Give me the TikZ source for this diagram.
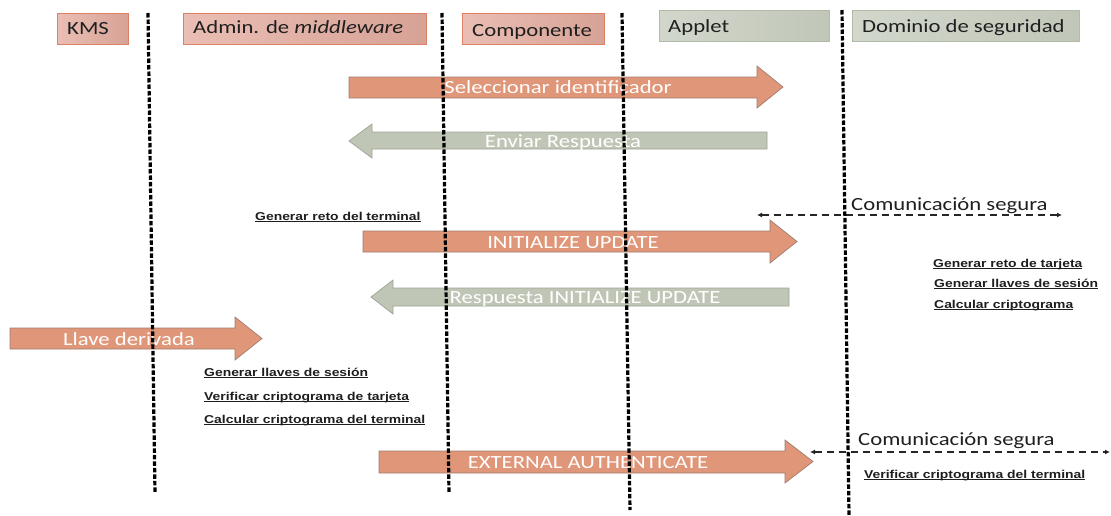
\documentclass[tikz,border=0pt]{standalone}
\usepackage{fontspec}
\setmainfont{Carlito}[FakeStretch=1.22]
\newfontfamily\notefont{Liberation Sans}[FakeStretch=1.22]
\usetikzlibrary{arrows.meta}

\definecolor{hdrpinkA}{RGB}{234,190,180}
\definecolor{hdrpinkB}{RGB}{215,162,150}
\definecolor{hdrpinkLine}{RGB}{222,128,100}
\definecolor{hdrgrayA}{RGB}{210,215,203}
\definecolor{hdrgrayB}{RGB}{192,198,184}
\definecolor{hdrgrayLine}{RGB}{178,186,168}
\definecolor{reqfill}{RGB}{224,150,120}
\definecolor{reqline}{RGB}{160,125,112}
\definecolor{respfill}{RGB}{192,198,182}
\definecolor{respline}{RGB}{158,164,150}
\definecolor{notecol}{RGB}{30,30,30}

% underlined bold note text
\newsavebox\ulbox
\newcommand\noteul[1]{\sbox\ulbox{#1}\rlap{\rule[-1.8pt]{\wd\ulbox}{0.9pt}}\usebox\ulbox}

% right-pointing block arrow: x0, head base x, tip x, shaft top, shaft bottom, head top, head bottom
\newcommand\rblock[8]{\draw[#1] (#2,#5) -- (#3,#5) -- (#3,#7) -- (#4,{(#7+#8)/2}) -- (#3,#8) -- (#3,#6) -- (#2,#6) -- cycle;}
% left-pointing block arrow: tip x, head base x, right end x, shaft top, shaft bottom, head top, head bottom
\newcommand\lblock[8]{\draw[#1] (#4,#5) -- (#3,#5) -- (#3,#7) -- (#2,{(#7+#8)/2}) -- (#3,#8) -- (#3,#6) -- (#4,#6) -- cycle;}

\tikzset{
  hdrpink/.style={draw=hdrpinkLine, line width=0.9pt, left color=hdrpinkA, right color=hdrpinkB,
    anchor=north west, minimum height=31pt, inner sep=0pt},
  hdrgray/.style={draw=hdrgrayLine, line width=0.9pt, left color=hdrgrayA, right color=hdrgrayB,
    anchor=north west, minimum height=31pt, inner sep=0pt},
  hdrtext/.style={anchor=base west, inner sep=0pt, text=black!88,
    font=\fontsize{18.6}{22}\selectfont},
  reqarrow/.style={fill=reqfill, draw=reqline, line width=0.7pt},
  resparrow/.style={fill=respfill, draw=respline, line width=0.7pt},
  arrowtext/.style={inner sep=0pt, text=white, text height=12pt, text depth=0pt,
    font=\fontsize{18.6}{22}\selectfont},
  note/.style={anchor=base west, inner sep=0pt, text=notecol,
    font=\notefont\bfseries\fontsize{11.4}{14}\selectfont},
  lifeline/.style={line width=3.2pt, black, dash pattern=on 4.5pt off 2pt},
  secure/.style={line width=1.3pt, black!85, dash pattern=on 7pt off 5pt,
    {Latex[length=5pt,width=5pt]}-{Latex[length=5pt,width=5pt]}},
  securetext/.style={anchor=base west, inner sep=0pt, text=black!88,
    font=\fontsize{18.6}{22}\selectfont}
}

\begin{document}
\begin{tikzpicture}[x=1pt,y=-1pt]
\useasboundingbox (0,0) rectangle (1111,515);

% participants
\node[hdrpink, minimum width=71pt]  (kms)   at (57,13)  {};
\node[hdrpink, minimum width=243pt] (admin) at (183,13) {};
\node[hdrpink, minimum width=142pt] (comp)  at (462,13) {};
\node[hdrgray, minimum width=170pt] (app)   at (659,10) {};
\node[hdrgray, minimum width=227pt] (dom)   at (852,10) {};
\node[hdrtext] (kmst)   at (67,34.5)  {KMS};
\node[hdrtext] (admint) at (193,33.5) {Admin. de \textit{middleware}};
\node[hdrtext] (compt)  at (472,36)   {Componente};
\node[hdrtext] (appt)   at (668,32)   {Applet};
\node[hdrtext] (domt)   at (862,32)   {Dominio de seguridad};

% messages
\rblock{reqarrow}{349}{757}{783}{77}{98}{66}{108}
\node[arrowtext] (m1) at (558,87.5) {Seleccionar identificador};

\lblock{resparrow}{349}{372}{767}{132}{149}{124}{158}
\node[arrowtext] (m2) at (563,141) {Enviar Respuesta};

\rblock{reqarrow}{363}{770}{797}{231}{252}{220}{263}
\node[arrowtext] (m3) at (573,242) {INITIALIZE UPDATE};

\lblock{resparrow}{371}{393}{789}{288}{306}{280}{314}
\node[arrowtext] (m4) at (585,297.5) {Respuesta INITIALIZE UPDATE};

\rblock{reqarrow}{10}{235}{262}{328}{349}{317}{360}
\node[arrowtext] (m5) at (129,339) {Llave derivada};

\rblock{reqarrow}{379}{785}{813}{451}{473}{440}{483}
\node[arrowtext] (m6) at (588,462) {EXTERNAL AUTHENTICATE};

% secure channel
\coordinate (s1a) at (757,215);
\coordinate (s1b) at (1062,215);
\draw[secure] (s1a) -- (s1b);
\node[securetext] (s1t) at (851,210) {Comunicación segura};

\coordinate (s2a) at (810,452);
\coordinate (s2b) at (1110,452);
\draw[secure] (s2a) -- (s2b);
\node[securetext] (s2t) at (858,445) {Comunicación segura};

% local computations
\node[note] (n1) at (255,220) {\noteul{Generar reto del terminal}};
\node[note] (n2) at (933,267) {\noteul{Generar reto de tarjeta}};
\node[note] (n3) at (934,287) {\noteul{Generar llaves de sesión}};
\node[note] (n4) at (934,308) {\noteul{Calcular criptograma}};
\node[note] (n5) at (204,376) {\noteul{Generar llaves de sesión}};
\node[note] (n6) at (204,400) {\noteul{Verificar criptograma de tarjeta}};
\node[note] (n7) at (204,423) {\noteul{Calcular criptograma del terminal}};
\node[note] (n8) at (864,478) {\noteul{Verificar criptograma del terminal}};

% lifelines
\coordinate (l1t) at (148,13);  \coordinate (l1b) at (155,493);
\coordinate (l2t) at (442,13);  \coordinate (l2b) at (449,493);
\coordinate (l3t) at (622,13);  \coordinate (l3b) at (630,510);
\coordinate (l4t) at (842,10);  \coordinate (l4b) at (849,515);
\draw[lifeline] (l1t) -- (l1b);
\draw[lifeline] (l2t) -- (l2b);
\draw[lifeline] (l3t) -- (l3b);
\draw[lifeline] (l4t) -- (l4b);
\end{tikzpicture}
\end{document}
